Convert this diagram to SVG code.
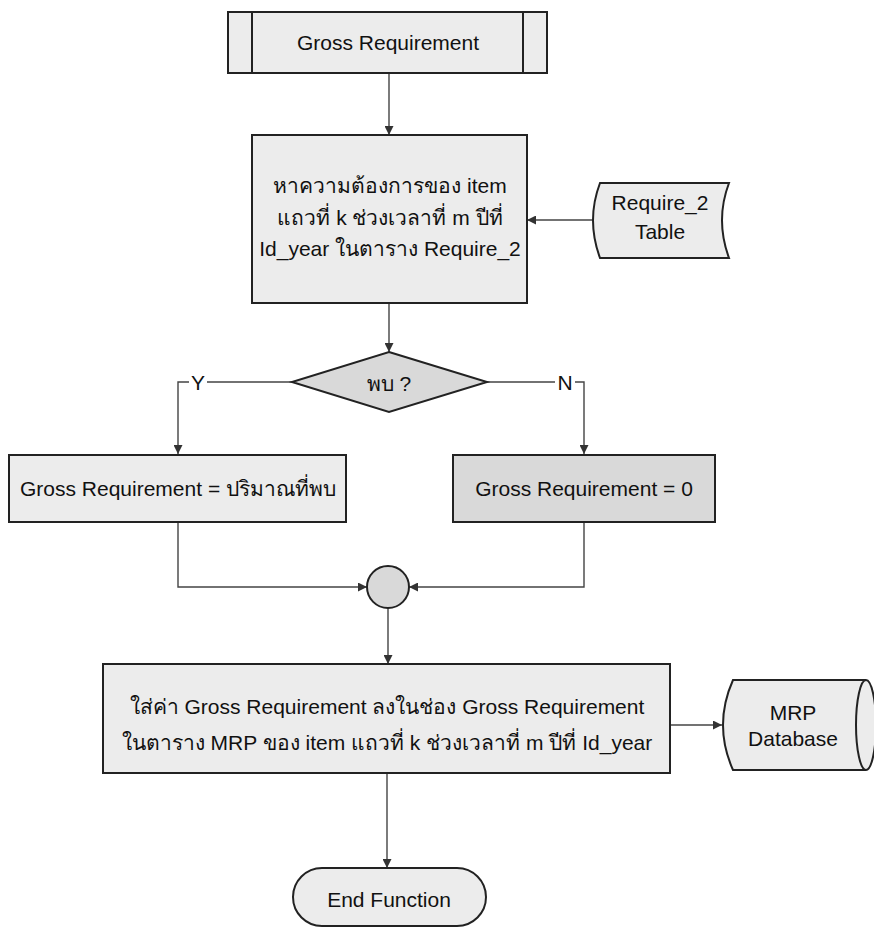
<svg xmlns="http://www.w3.org/2000/svg" width="874" height="928" viewBox="0 0 874 928">
<defs>
<marker id="arr" viewBox="0 0 10 10" refX="10" refY="5" markerWidth="9" markerHeight="9" markerUnits="userSpaceOnUse" orient="auto">
<path d="M0,0 L10,5 L0,10 Z" fill="#333"/>
</marker>
</defs>
<style>
.box{fill:#ececec;stroke:#222;stroke-width:2}
.dark{fill:#d9d9d9;stroke:#222;stroke-width:2}
.ln{fill:none;stroke:#444;stroke-width:1.4}
.t{font-family:"Liberation Sans","Noto Sans","DejaVu Sans",sans-serif;font-size:21px;fill:#111;text-anchor:middle;dominant-baseline:central}
</style>
<rect width="874" height="928" fill="#fff"/>
<g id="connectors">
<path class="ln" d="M389,73 L389,135" marker-end="url(#arr)"/>
<path class="ln" d="M593,220 L527,220" marker-end="url(#arr)"/>
<path class="ln" d="M389,303 L389,352" marker-end="url(#arr)"/>
<path class="ln" d="M292,382 L178,382 L178,454" marker-end="url(#arr)"/>
<path class="ln" d="M487,382 L584,382 L584,454" marker-end="url(#arr)"/>
<path class="ln" d="M178,522 L178,587 L367,587" marker-end="url(#arr)"/>
<path class="ln" d="M584,522 L584,587 L409,587" marker-end="url(#arr)"/>
<path class="ln" d="M388,608 L388,664" marker-end="url(#arr)"/>
<path class="ln" d="M670,725 L722,725" marker-end="url(#arr)"/>
<path class="ln" d="M387,773 L387,868" marker-end="url(#arr)"/>
<rect x="189" y="371" width="18" height="22" fill="#fff"/>
<text class="t" x="198" y="382" font-size="20">Y</text>
<rect x="555" y="371" width="20" height="22" fill="#fff"/>
<text class="t" x="565" y="382" font-size="20">N</text>
</g>
<g id="gross">
<rect class="box" x="228" y="12" width="319" height="61"/>
<line x1="252" y1="12" x2="252" y2="73" stroke="#222" stroke-width="2"/>
<line x1="523" y1="12" x2="523" y2="73" stroke="#222" stroke-width="2"/>
<text class="t" x="388" y="42">Gross Requirement</text>
</g>
<g id="find">
<rect class="box" x="252" y="135" width="275" height="168"/>
<text class="t" x="390" y="185">หาความต้องการของ item</text>
<text class="t" x="390" y="217">แถวที่ k  ช่วงเวลาที่ m ปีที่</text>
<text class="t" x="390" y="248">Id_year ในตาราง Require_2</text>
</g>
<g id="require2">
<path class="box" d="M600,183 L729,183 Q715,220 729,258 L600,258 Q586,220 600,183 Z"/>
<text class="t" x="660" y="202">Require_2</text>
<text class="t" x="660" y="231">Table</text>
</g>
<g id="decision">
<path class="dark" d="M389,352 L487,382 L389,412 L292,382 Z"/>
<text class="t" x="389" y="383">พบ ?</text>
</g>
<g id="found">
<rect class="box" x="9" y="455" width="337" height="67"/>
<text class="t" x="178" y="488">Gross Requirement = ปริมาณที่พบ</text>
</g>
<g id="notfound">
<rect class="dark" x="453" y="455" width="262" height="67"/>
<text class="t" x="584" y="488">Gross Requirement = 0</text>
</g>
<g id="merge">
<circle cx="388" cy="587" r="21" fill="#d9d9d9" stroke="#222" stroke-width="2"/>
</g>
<g id="store">
<rect class="box" x="103" y="664" width="567" height="109"/>
<text class="t" x="387" y="706">ใส่ค่า Gross Requirement ลงในช่อง  Gross Requirement</text>
<text class="t" x="387" y="742">ในตาราง MRP  ของ item แถวที่ k ช่วงเวลาที่ m ปีที่ Id_year</text>
</g>
<g id="mrpdb">
<path class="box" d="M733,680 L866,680 A10,45 0 0 1 866,770 L733,770 Q713,725 733,680 Z"/>
<path d="M866,680 A10,45 0 0 0 866,770" fill="none" stroke="#222" stroke-width="2"/>
<text class="t" x="793" y="712">MRP</text>
<text class="t" x="793" y="738">Database</text>
</g>
<g id="end">
<rect class="box" x="293" y="868" width="193" height="58" rx="29" ry="29"/>
<text class="t" x="389" y="899">End Function</text>
</g>
</svg>
